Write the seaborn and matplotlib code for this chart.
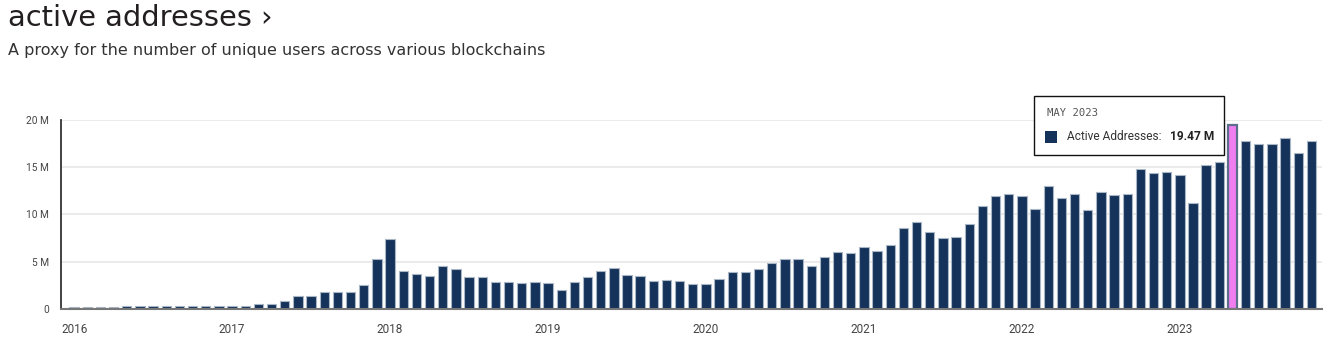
import matplotlib
matplotlib.use("Agg")
import matplotlib.pyplot as plt
from matplotlib.patches import Rectangle
import seaborn as sns
import pandas as pd

# ---- data (millions of active addresses, monthly Jan 2016 - Nov 2023) ----
years = ["2016", "2017", "2018", "2019", "2020", "2021", "2022", "2023"]
v2016 = [0.20, 0.22, 0.25, 0.25, 0.28, 0.30, 0.30, 0.28, 0.28, 0.30, 0.32, 0.30]
v2017 = [0.30, 0.30, 0.53, 0.53, 0.85, 1.40, 1.35, 1.75, 1.83, 1.83, 2.50, 5.24]
v2018 = [7.42, 4.00, 3.65, 3.50, 4.50, 4.20, 3.40, 3.40, 2.80, 2.90, 2.70, 2.80]
v2019 = [2.70, 2.04, 2.80, 3.40, 3.97, 4.30, 3.60, 3.50, 2.95, 3.10, 3.00, 2.67]
v2020 = [2.67, 3.20, 3.90, 3.87, 4.20, 4.90, 5.24, 5.24, 4.53, 5.50, 5.98, 5.90]
v2021 = [6.53, 6.10, 6.80, 8.50, 9.17, 8.08, 7.48, 7.62, 8.92, 10.83, 11.89, 12.10]
v2022 = [11.96, 10.55, 12.98, 11.75, 12.13, 10.44, 12.35, 12.06, 12.17, 14.81, 14.32, 14.46]
v2023 = [14.18, 11.22, 15.20, 15.49, 19.47, 17.74, 17.46, 17.46, 18.10, 16.47, 17.74]
highlight_month = "2023-05"
highlight_label = "MAY 2023"
yticks = [0, 5, 10, 15, 20]
ytick_labels = ["0", "5 M", "10 M", "15 M", "20 M"]

values = v2016 + v2017 + v2018 + v2019 + v2020 + v2021 + v2022 + v2023
months = [f"{y}-{m:02d}" for y in range(2016, 2024) for m in range(1, 13)][:len(values)]
df = pd.DataFrame({"month": months, "value": [v * 1e6 for v in values]})
df["hl"] = df["month"] == highlight_month

NAVY = "#14325a"
PINK = "#f07ef0"

sns.set_theme(style="white")
plt.rcParams["font.family"] = ["Roboto", "DejaVu Sans"]

fig = plt.figure(figsize=(13.29, 3.46), dpi=100)
ax = fig.add_axes([61 / 1329, 37 / 346, 1261 / 1329, 189.5 / 346])

sns.barplot(data=df, x="month", y="value", hue="hl", order=months,
            palette={False: NAVY, True: PINK}, width=0.71, legend=False,
            ax=ax, linewidth=0.8, edgecolor="#a9b6c6", saturation=1)

for p in ax.patches:
    if p.get_facecolor()[:3] != matplotlib.colors.to_rgb(NAVY) and p.get_height() > 0:
        p.set_edgecolor("#5d6d8c")
        p.set_linewidth(1.6)

ax.set_xlim(-1.0, 94.8)
ax.set_ylim(0, 20e6)
ax.set_yticks([t * 1e6 for t in yticks])
ax.set_yticklabels(ytick_labels, fontsize=7.3, color="#444444")
ax.set_xticks(range(0, len(values), 12))
ax.set_xticklabels(years, fontsize=8.5, color="#444444")
ax.tick_params(axis="y", length=0, pad=8.5)
ax.tick_params(axis="x", length=4, width=1, color="#d0d0d0", pad=6, direction="out")
ax.set_xlabel("")
ax.set_ylabel("")
ax.grid(axis="y", color="#ebebeb", linewidth=1.5)
ax.set_axisbelow(True)
for s in ["top", "right"]:
    ax.spines[s].set_visible(False)
ax.spines["left"].set_color("#333333")
ax.spines["left"].set_linewidth(1.3)
ax.spines["bottom"].set_color("#777777")
ax.spines["bottom"].set_linewidth(1.5)

# title & subtitle
fig.text(8 / 1329, 1 - 25.5 / 346, "active addresses \u203a", family="DejaVu Sans",
         fontsize=20.8, color="#231f20", va="baseline", ha="left")
fig.text(8 / 1329, 1 - 55 / 346, "A proxy for the number of unique users across various blockchains",
         family="DejaVu Sans", fontsize=11.55, color="#333333", va="baseline", ha="left")

# tooltip
W, H = 1329, 346
box = Rectangle((1034 / W, 1 - 155 / H), 190 / W, 59 / H, transform=fig.transFigure,
                facecolor="white", edgecolor="#111111", linewidth=1, zorder=5)
fig.add_artist(box)
fig.text(1047 / W, 1 - 113 / H, highlight_label, family="DejaVu Sans Mono", fontsize=7.6,
         color="#555555", va="center", ha="left", zorder=6)
sq = Rectangle((1045 / W, 1 - 143 / H), 12 / W, 12 / H, transform=fig.transFigure,
               facecolor=NAVY, edgecolor="none", zorder=6)
fig.add_artist(sq)
hl_val = df.loc[df["hl"], "value"].iloc[0] / 1e6
fig.text(1067 / W, 1 - 137 / H, "Active Addresses:", fontsize=8.6, color="#333333",
         va="center", ha="left", zorder=6)
fig.text(1214 / W, 1 - 137 / H, f"{hl_val:.2f} M", fontsize=8.6, fontweight="bold",
         color="#222222", va="center", ha="right", zorder=6)

fig.savefig("out.png", dpi=100)
